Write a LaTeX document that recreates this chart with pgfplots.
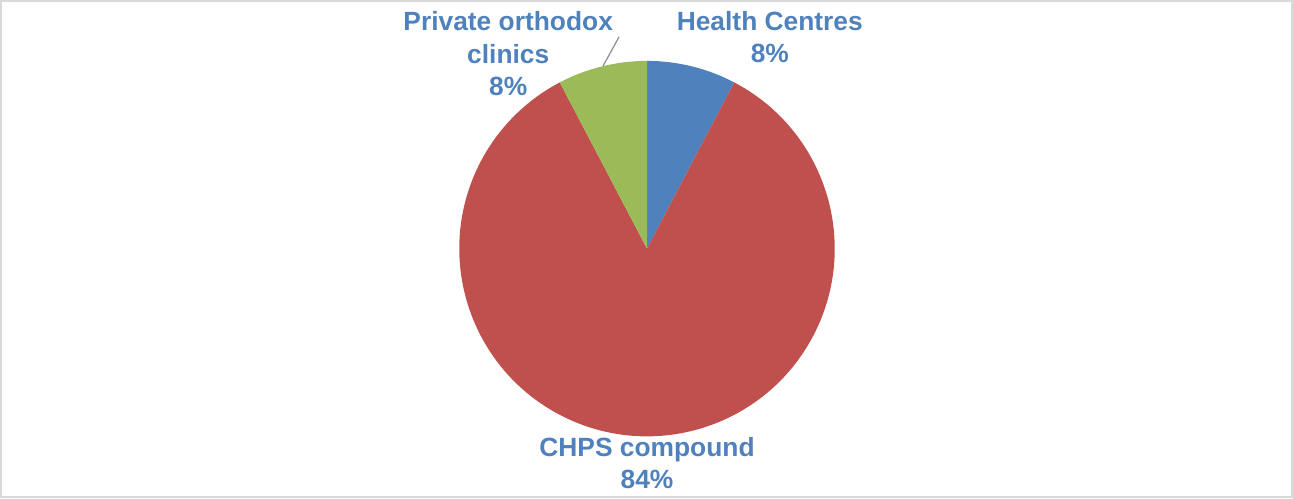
\documentclass[border=0pt]{standalone}
\usepackage{pgfplots}
\pgfplotsset{compat=1.18}
\usepackage{fontspec}
\setmainfont{Liberation Sans}
\definecolor{sblue}{HTML}{4F81BD}
\definecolor{sred}{HTML}{C0504D}
\definecolor{sgreen}{HTML}{9BBB59}
\definecolor{frame}{HTML}{D9D9D9}
\tikzset{lbl/.style={text=sblue, align=center, inner sep=0pt,
    font=\bfseries\fontsize{13.2}{16.2}\selectfont}}
% slice values (counts): Health Centres, CHPS compound, Private orthodox clinics
\def\vA{1}\def\vB{11}\def\vC{1}
\pgfmathsetmacro\tot{\vA+\vB+\vC}
\pgfmathsetmacro\aA{90}
\pgfmathsetmacro\aB{\aA-360*\vA/\tot}
\pgfmathsetmacro\aC{\aB-360*\vB/\tot}
\pgfmathsetmacro\aD{\aC-360*\vC/\tot}
\begin{document}
\begin{tikzpicture}
\begin{axis}[
  x=0.5pt, y=0.5pt,
  xmin=0, xmax=1293, ymin=0, ymax=497,
  axis lines=box, xtick=\empty, ytick=\empty,
  axis line style={draw=frame, line width=1pt},
  clip=false,
]
\fill[sblue] (axis cs:647,249) -- ++(\aA:94pt) arc[start angle=\aA, end angle=\aB, radius=94pt] -- cycle;
\fill[sred] (axis cs:647,249) -- ++(\aB:94pt) arc[start angle=\aB, end angle=\aC, radius=94pt] -- cycle;
\fill[sgreen] (axis cs:647,249) -- ++(\aC:94pt) arc[start angle=\aC, end angle=\aD, radius=94pt] -- cycle;
\draw[gray!90, line width=0.6pt] (axis cs:619,461) -- (axis cs:603,432);
\node[lbl] at (axis cs:770,461) {Health Centres\\8\%};
\node[lbl] at (axis cs:508,444) {Private orthodox\\clinics\\8\%};
\node[lbl] at (axis cs:647,34) {CHPS compound\\84\%};
\end{axis}
\end{tikzpicture}
\end{document}
